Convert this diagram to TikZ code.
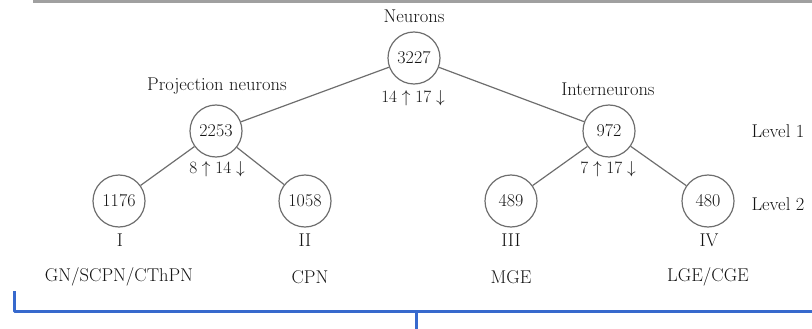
\documentclass[tikz,border=0pt]{standalone}
\usepackage{amsmath}
\definecolor{edgegray}{RGB}{110,110,110}
\definecolor{txt}{RGB}{20,20,20}
\definecolor{bracketblue}{RGB}{55,105,205}
\definecolor{topgray}{RGB}{160,160,160}
\begin{document}
\begin{tikzpicture}[x=1pt,y=-1pt,
  every node/.style={text=txt,font=\fontsize{18.5}{21}\selectfont},
  numnode/.style={circle,draw=edgegray,line width=1.2pt,minimum size=52pt,inner sep=0pt,font=\fontsize{18}{21}\selectfont},
  lbl/.style={inner sep=0pt},
  edge/.style={draw=edgegray,line width=1.2pt},
  bracket/.style={draw=bracketblue,line width=3pt}]
\useasboundingbox (0,0) rectangle (812,329);
% top rule
\coordinate (tl) at (33,1.5);
\coordinate (tr) at (812,1.5);
\draw[topgray,line width=2.2pt] (tl) -- (tr);
% nodes
\node[numnode] (n0) at (414,58) {3227};
\node[numnode] (n1) at (216,131) {2253};
\node[numnode] (n2) at (609,131) {972};
\node[numnode] (n3) at (119,201) {1176};
\node[numnode] (n4) at (305,201) {1058};
\node[numnode] (n5) at (511,201) {489};
\node[numnode] (n6) at (708,201) {480};
% edges
\draw[edge] (n0) -- (n1);
\draw[edge] (n0) -- (n2);
\draw[edge] (n1) -- (n3);
\draw[edge] (n1) -- (n4);
\draw[edge] (n2) -- (n5);
\draw[edge] (n2) -- (n6);
% labels
\node[lbl] (l0) at (414,16) {Neurons};
\node[lbl] (l1) at (217,86) {Projection neurons};
\node[lbl] (l2) at (608,89) {Interneurons};
\node[lbl] (c0) at (413,98) {$14\uparrow 17\downarrow$};
\node[lbl] (c1) at (217,169) {$8\uparrow 14\downarrow$};
\node[lbl] (c2) at (608,169) {$7\uparrow 17\downarrow$};
\node[lbl] (lv1) at (778,131) {Level 1};
\node[lbl] (lv2) at (778,204) {Level 2};
\node[lbl] (r1) at (120,240) {I};
\node[lbl] (r2) at (305,240) {II};
\node[lbl] (r3) at (511,240) {III};
\node[lbl] (r4) at (709,240) {IV};
\node[lbl] (t1) at (119,277) {GN/SCPN/CThPN};
\node[lbl] (t2) at (310,277) {CPN};
\node[lbl] (t3) at (511,277) {MGE};
\node[lbl] (t4) at (708,277) {LGE/CGE};
% bracket
\coordinate (b0) at (14,291);
\coordinate (b1) at (14,311);
\coordinate (b2) at (812,311);
\coordinate (bm) at (416,311);
\coordinate (bt) at (416,329);
\draw[bracket,line join=round] (b0) -- (b1) -- (b2);
\draw[bracket] (bm) -- (bt);
\end{tikzpicture}
\end{document}
